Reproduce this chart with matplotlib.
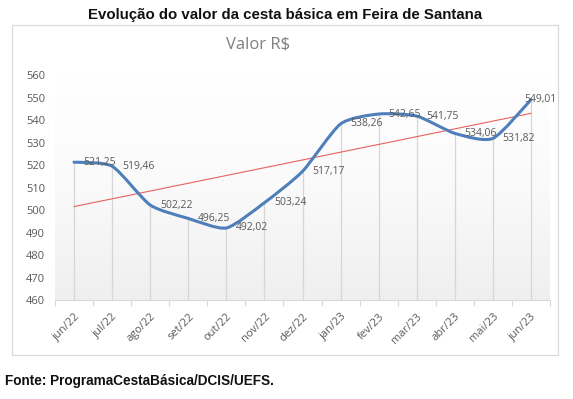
import numpy as np
import matplotlib
matplotlib.use("Agg")
import matplotlib.pyplot as plt
from matplotlib.path import Path
from matplotlib.patches import PathPatch, Rectangle
from matplotlib.colors import LinearSegmentedColormap

months = ["jun/22", "jul/22", "ago/22", "set/22", "out/22", "nov/22", "dez/22",
          "jan/23", "fev/23", "mar/23", "abr/23", "mai/23", "jun/23"]
values = [521.25, 519.46, 502.22, 496.25, 492.02, 503.24, 517.17,
          538.26, 542.65, 541.75, 534.06, 531.82, 549.01]
yticks = [460, 470, 480, 490, 500, 510, 520, 530, 540, 550, 560]

title = "Evolução do valor da cesta básica em Feira de Santana"
subtitle = "Valor R$"
source = "Fonte: ProgramaCestaBásica/DCIS/UEFS."

W, H = 573, 399
fig = plt.figure(figsize=(W / 100, H / 100), dpi=100)
fig.patch.set_facecolor("white")

# outer chart frame
fig.patches.append(Rectangle((12 / W, 1 - 355 / H), 546 / W, 330 / H,
                             transform=fig.transFigure, fill=False,
                             edgecolor="#d9d9d9", lw=0.9))

ax = fig.add_axes([55 / W, 1 - 300 / H, 495 / W, 225 / H])
n = len(values)
x = np.arange(n)
y = np.array(values)

ax.set_xlim(-0.5, n - 0.5)
ax.set_ylim(yticks[0], yticks[-1])

# gradient background
cmap = LinearSegmentedColormap.from_list("g", ["#ffffff", "#fafafa", "#efefef"])
ax.imshow(np.linspace(0, 1, 256).reshape(-1, 1), extent=(-0.5, n - 0.5, yticks[0], yticks[-1]),
          aspect="auto", cmap=cmap, zorder=0, interpolation="bicubic")

# drop lines
ax.vlines(x, yticks[0], y, color="#d6d6d6", lw=0.9, zorder=1)

# trend line (linear regression)
k, b = np.polyfit(x, y, 1)
ax.plot(x, k * x + b, color="#e8625f", lw=0.8, zorder=2)

# smoothed series line (bezier through data points)
P = np.column_stack([x, y]).astype(float)
verts = [tuple(P[0])]
codes = [Path.MOVETO]
for i in range(n - 1):
    p_prev = P[i - 1] if i > 0 else P[i]
    p_next = P[i + 2] if i + 2 < n else P[i + 1]
    c1 = P[i] + (P[i + 1] - p_prev) / 9
    c2 = P[i + 1] - (p_next - P[i]) / 9
    verts += [tuple(c1), tuple(c2), tuple(P[i + 1])]
    codes += [Path.CURVE4] * 3
ax.add_patch(PathPatch(Path(verts, codes), facecolor="none", edgecolor="#4e7fbb",
                       lw=2.2, zorder=3, capstyle="round", joinstyle="round"))

# data labels
for i, v in enumerate(values):
    dx = 7 if i < n - 1 else -5
    ax.annotate(f"{v:.2f}".replace(".", ","), (x[i], v), xytext=(dx, 0),
                textcoords="offset points", ha="left", va="center",
                fontsize=7.5, color="#595959", family="Open Sans", zorder=4)

# axes styling
for s in ["top", "right", "left"]:
    ax.spines[s].set_visible(False)
ax.spines["bottom"].set_color("#d9d9d9")
ax.set_yticks(yticks)
ax.set_yticklabels([str(t) for t in yticks], family="Open Sans", fontsize=8, color="#595959")
ax.tick_params(axis="y", length=0, pad=7)
ax.set_xticks(x)
ax.set_xticklabels(months, rotation=45, ha="right", va="top", rotation_mode="anchor",
                   family="Open Sans", fontsize=8, color="#595959")
ax.tick_params(axis="x", which="major", length=0, pad=8)
ax.set_xticks(np.arange(n + 1) - 0.5, minor=True)
ax.tick_params(axis="x", which="minor", length=4, color="#d9d9d9", width=0.8)

fig.text(285 / W, 1 - 15 / H, title, ha="center", va="center", fontsize=10.8,
         fontweight="bold", family="Liberation Sans", color="#111111")
fig.text(258 / W, 1 - 45 / H, subtitle, ha="center", va="center", fontsize=12,
         family="Open Sans", color="#7f7f7f")
fig.text(5 / W, 1 - 381 / H, source, ha="left", va="center", fontsize=9.8,
         fontweight="bold", family="Liberation Sans", color="#111111")

fig.savefig("out.png", dpi=100)
